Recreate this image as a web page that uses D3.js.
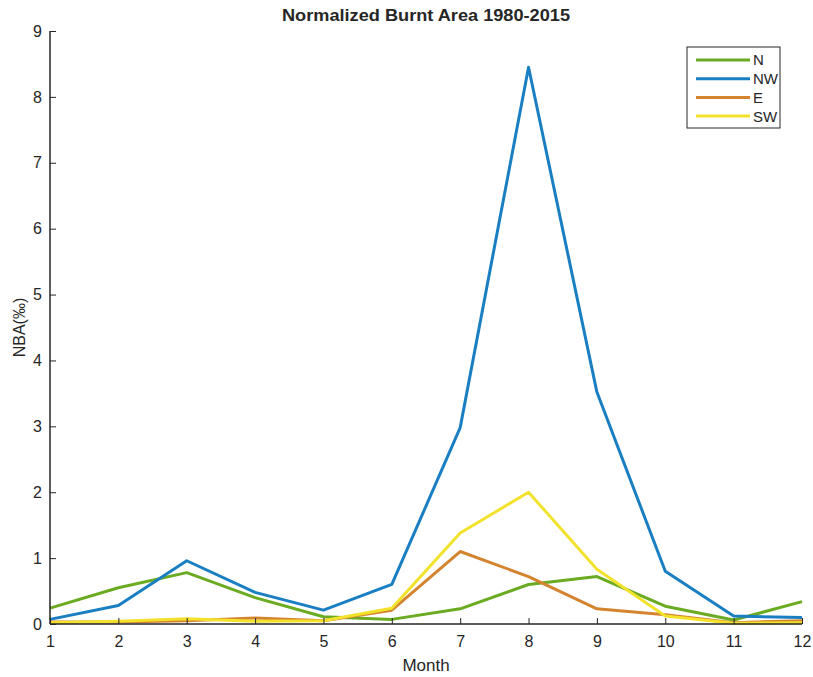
<!DOCTYPE html>
<html>
<head>
<meta charset="utf-8">
<script src="https://cdn.jsdelivr.net/npm/d3@7"></script>
<style>
  body { margin: 0; background: #fff; }
  svg text { font-family: "Liberation Sans", Arial, sans-serif; fill: #262626; }
</style>
</head>
<body>
<div id="chart"></div>
<script>
const months = [1, 2, 3, 4, 5, 6, 7, 8, 9, 10, 11, 12];
const nValues  = [0.24, 0.55, 0.78, 0.40, 0.11, 0.07, 0.23, 0.60, 0.72, 0.27, 0.06, 0.34];
const nwValues = [0.07, 0.28, 0.96, 0.48, 0.21, 0.60, 2.98, 8.45, 3.52, 0.80, 0.12, 0.10];
const eValues  = [0.03, 0.03, 0.05, 0.09, 0.05, 0.21, 1.10, 0.72, 0.23, 0.14, 0.02, 0.05];
const swValues = [0.02, 0.04, 0.08, 0.04, 0.05, 0.24, 1.38, 2.00, 0.83, 0.12, 0.01, 0.02];
const yTicks = [0, 1, 2, 3, 4, 5, 6, 7, 8, 9];

const series = [
    { name: 'N', values: nValues, color: '#6aab22' },
    { name: 'NW', values: nwValues, color: '#1a7fc2' },
    { name: 'E', values: eValues, color: '#d4842f' },
    { name: 'SW', values: swValues, color: '#f3e22c' }
];

const width = 813, height = 677;
const margin = { left: 50, right: 11, top: 31, bottom: 53 };

const svg = d3.select('#chart').append('svg')
    .attr('width', width)
    .attr('height', height);

const x = d3.scaleLinear().domain([1, 12]).range([margin.left, width - margin.right]);
const y = d3.scaleLinear().domain([0, 9]).range([height - margin.bottom, margin.top]);

// lines
const line = d3.line()
    .x((d, i) => x(months[i]))
    .y(d => y(d));

svg.append('g')
    .selectAll('path')
    .data(series)
    .enter().append('path')
    .attr('d', d => line(d.values))
    .attr('fill', 'none')
    .attr('stroke', d => d.color)
    .attr('stroke-width', 3)
    .attr('stroke-linejoin', 'round');

// axes (MATLAB style, ticks inward)
const xAxis = svg.append('g')
    .attr('transform', `translate(0,${y(0)})`)
    .call(d3.axisBottom(x).tickValues(months).tickSize(-6).tickPadding(12).tickFormat(d3.format('d')));
const yAxis = svg.append('g')
    .attr('transform', `translate(${x(1)},0)`)
    .call(d3.axisLeft(y).tickValues(yTicks).tickSize(-6).tickPadding(8).tickFormat(d3.format('d')));

[xAxis, yAxis].forEach(a => {
    a.select('.domain').attr('stroke', '#262626').attr('stroke-width', 1.5);
    a.selectAll('.tick line').attr('stroke', '#262626').attr('stroke-width', 1);
    a.selectAll('.tick text').style('font-size', '16px').attr('fill', '#262626');
});
xAxis.select('.domain').attr('d', `M${x(1)},0H${x(12)}`);
yAxis.select('.domain').attr('d', `M0,${y(0)}V${y(9)}`);

// title and labels
svg.append('text')
    .attr('x', (x(1) + x(12)) / 2)
    .attr('y', 21)
    .attr('text-anchor', 'middle')
    .style('font-size', '16px')
    .style('font-weight', 'bold')
    .attr('fill', '#000')
    .attr('textLength', 288)
    .attr('lengthAdjust', 'spacingAndGlyphs')
    .text('Normalized Burnt Area 1980-2015');

svg.append('text')
    .attr('x', (x(1) + x(12)) / 2)
    .attr('y', 671)
    .attr('text-anchor', 'middle')
    .style('font-size', '17px')
    .text('Month');

svg.append('text')
    .attr('transform', `translate(25,${(y(0) + y(9)) / 2}) rotate(-90)`)
    .attr('text-anchor', 'middle')
    .style('font-size', '16px')
    .text('NBA(‰)');

// legend
const legend = svg.append('g').attr('transform', 'translate(687,47)');
legend.append('rect')
    .attr('width', 93)
    .attr('height', 81)
    .attr('fill', '#fff')
    .attr('stroke', '#262626')
    .attr('stroke-width', 1);
const item = legend.selectAll('g.item')
    .data(series)
    .enter().append('g')
    .attr('class', 'item')
    .attr('transform', (d, i) => `translate(0,${13 + i * 18.7})`);
item.append('line')
    .attr('x1', 9).attr('x2', 63)
    .attr('stroke', d => d.color)
    .attr('stroke-width', 3);
item.append('text')
    .attr('x', 66)
    .attr('dy', '0.36em')
    .style('font-size', '15px')
    .text(d => d.name);
</script>
</body>
</html>
